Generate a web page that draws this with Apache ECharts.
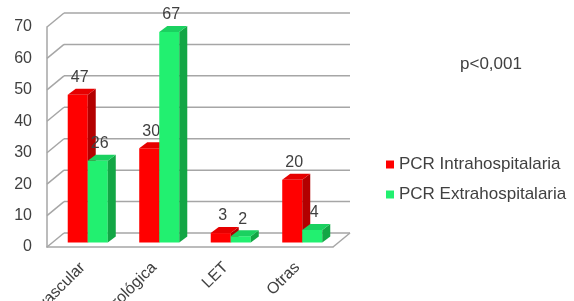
<!DOCTYPE html>
<html>
<head>
<meta charset="utf-8">
<script src="https://cdn.jsdelivr.net/npm/echarts@6/dist/echarts.min.js"></script>
<style>
  html, body { margin: 0; padding: 0; background: #fff; }
  #chart { width: 574px; height: 301px; }
</style>
</head>
<body>
<div id="chart"></div>
<script>
const categories = ['Cardiovascular', 'Neurológica', 'LET', 'Otras'];
const intraValues = [47, 30, 3, 20];
const extraValues = [26, 67, 2, 4];
const yTicks = [0, 10, 20, 30, 40, 50, 60, 70];
const seriesNames = ['PCR Intrahospitalaria', 'PCR Extrahospitalaria'];
const pValue = 'p<0,001';

const font = "'Liberation Sans', Arial, sans-serif";
const textColor = '#404040';
const wallColor = '#a6a6a6';

// oblique projection: wall depth and where the bars sit inside it
const WALL = [17, -14];
const BAR_SHIFT = [5, -4.5];
const BAR_DEPTH = [8, -6];

const wallRenderer = (params, api) => {
    const cs = params.coordSys;
    const x0 = cs.x, x1 = cs.x + cs.width;
    const y = api.coord([0, api.value(1)])[1];
    const style = { stroke: wallColor, lineWidth: 1.5, fill: null };
    const children = [
        { type: 'line', shape: { x1: x0, y1: y, x2: x0 + WALL[0], y2: y + WALL[1] }, style },
        { type: 'line', shape: { x1: x0 + WALL[0], y1: y + WALL[1], x2: x1 + WALL[0], y2: y + WALL[1] }, style },
    ];
    if (api.value(1) === 0) {
        children.push({ type: 'line', shape: { x1: x1, y1: y, x2: x1 + WALL[0], y2: y + WALL[1] }, style });
    }
    return { type: 'group', children };
};

const barRenderer = (slot, face, top, side) => (params, api) => {
    const idx = api.value(0);
    const val = api.value(1);
    const base = api.coord([idx, 0]);
    const tip = api.coord([idx, val]);
    const w = api.size([1, 0])[0] * 0.28;
    const xl = base[0] - w + slot * w + BAR_SHIFT[0];
    const xr = xl + w;
    const yb = base[1] + BAR_SHIFT[1];
    const yt = tip[1] + BAR_SHIFT[1];
    const [dx, dy] = BAR_DEPTH;
    return {
        type: 'group',
        children: [
            { type: 'rect', shape: { x: xl, y: yt, width: w, height: yb - yt }, style: { fill: face } },
            { type: 'polygon', shape: { points: [[xr, yt], [xr + dx, yt + dy], [xr + dx, yb + dy], [xr, yb]] }, style: { fill: side } },
            { type: 'polygon', shape: { points: [[xl, yt], [xr, yt], [xr + dx, yt + dy], [xl + dx, yt + dy]] }, style: { fill: top } },
            {
                type: 'text',
                style: {
                    text: String(val), x: xl + w / 2 + 2, y: yt - 17,
                    align: 'center', verticalAlign: 'middle',
                    fill: textColor, fontSize: 16, fontFamily: font,
                },
            },
        ],
    };
};

const chart = echarts.init(document.getElementById('chart'), null, { renderer: 'canvas' });

chart.setOption({
    animation: false,
    backgroundColor: '#fff',
    title: {
        text: pValue,
        left: 455,
        top: 51,
        textStyle: { color: textColor, fontSize: 17, fontWeight: 'normal', fontFamily: font },
    },
    legend: {
        orient: 'vertical',
        left: 381,
        top: 151,
        itemGap: 13,
        itemWidth: 8,
        itemHeight: 8,
        icon: 'rect',
        data: seriesNames,
        textStyle: { color: textColor, fontSize: 17, fontFamily: font },
    },
    grid: { left: 47, right: 241, top: 27, bottom: 54, containLabel: false, outerBoundsMode: 'none' },
    xAxis: {
        type: 'category',
        data: categories,
        axisLine: { lineStyle: { color: wallColor, width: 1.5 } },
        axisTick: { show: false },
        axisLabel: { rotate: 45, margin: 18, interval: 0, color: textColor, fontSize: 16, fontFamily: font },
    },
    yAxis: {
        type: 'value',
        min: 0,
        max: 70,
        interval: 10,
        axisLine: { show: true, lineStyle: { color: wallColor, width: 1.5 } },
        axisTick: { show: false },
        splitLine: { show: false },
        axisLabel: { margin: 15, color: textColor, fontSize: 16, fontFamily: font },
    },
    series: [
        {
            name: 'walls',
            type: 'custom',
            z: 1,
            silent: true,
            renderItem: wallRenderer,
            data: yTicks.map((v) => [0, v]),
        },
        {
            name: seriesNames[0],
            type: 'custom',
            z: 2,
            itemStyle: { color: '#ff0000' },
            renderItem: barRenderer(0, '#ff0000', '#e60000', '#b30000'),
            data: intraValues.map((v, i) => [i, v]),
        },
        {
            name: seriesNames[1],
            type: 'custom',
            z: 3,
            itemStyle: { color: '#22f070' },
            renderItem: barRenderer(1, '#22f070', '#1ad160', '#13a645'),
            data: extraValues.map((v, i) => [i, v]),
        },
    ],
});
</script>
</body>
</html>
